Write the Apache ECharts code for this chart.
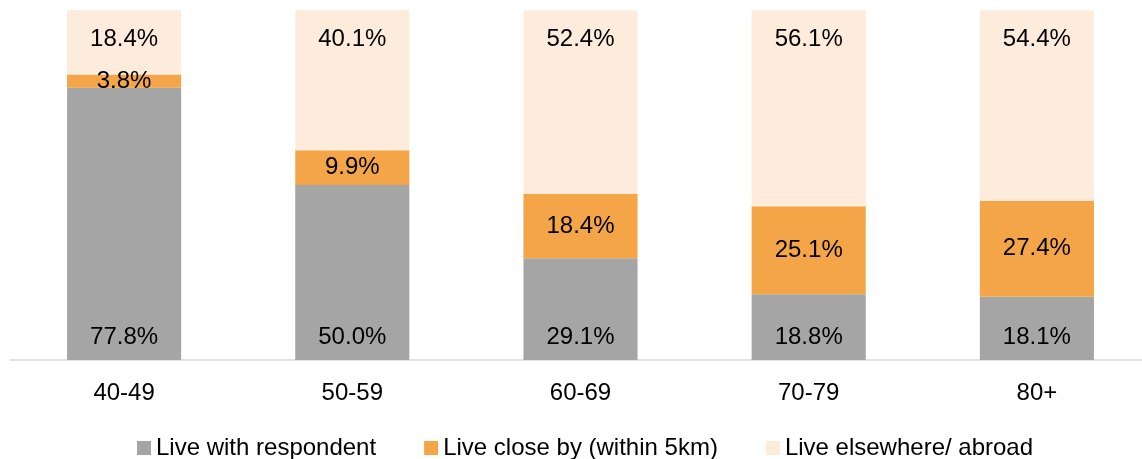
<!DOCTYPE html>
<html>
<head>
<meta charset="utf-8">
<script src="https://cdn.jsdelivr.net/npm/echarts@6/dist/echarts.min.js"></script>
<style>
  html, body { margin: 0; padding: 0; background: #fff; }
  #chart { width: 1142px; height: 459px; }
</style>
</head>
<body>
<div id="chart"></div>
<script>
// Age groups along the x axis
const categories = ['40-49', '50-59', '60-69', '70-79', '80+'];
// Share of children by where they live (%)
const liveWith = [77.8, 50.0, 29.1, 18.8, 18.1];
const liveClose = [3.8, 9.9, 18.4, 25.1, 27.4];
const liveElsewhere = [18.4, 40.1, 52.4, 56.1, 54.4];
const seriesNames = ['Live with respondent', 'Live close by (within 5km)', 'Live elsewhere/ abroad'];

const FONT = 'Liberation Sans, Arial, sans-serif';
const labelBase = {
  show: true,
  fontFamily: FONT,
  fontSize: 24,
  color: '#000',
  formatter: p => p.value.toFixed(1) + '%'
};

const chart = echarts.init(document.getElementById('chart'), null, { renderer: 'canvas' });
chart.setOption({
  animation: false,
  backgroundColor: '#fff',
  // the plot runs slightly past the right edge of the canvas
  grid: { left: 10, width: 1141, top: 10, bottom: 99, containLabel: false, outerBoundsMode: 'none' },
  legend: {
    data: seriesNames,
    left: 132,
    top: 431,
    icon: 'rect',
    itemWidth: 14,
    itemHeight: 14,
    itemGap: 48,
    textStyle: { fontFamily: FONT, fontSize: 24, color: '#000' }
  },
  xAxis: {
    type: 'category',
    data: categories,
    axisLine: { lineStyle: { color: '#d9d9d9', width: 1.5 } },
    axisTick: { show: false },
    axisLabel: { fontFamily: FONT, fontSize: 24, color: '#000', margin: 21 }
  },
  yAxis: {
    type: 'value',
    min: 0,
    max: 100,
    show: false,
    splitLine: { show: false }
  },
  series: [
    {
      name: seriesNames[0], type: 'bar', stack: 'total', data: liveWith,
      barWidth: '50%',
      itemStyle: { color: '#a5a5a5' },
      label: Object.assign({}, labelBase, { position: 'insideBottom', distance: 11 })
    },
    {
      name: seriesNames[1], type: 'bar', stack: 'total', data: liveClose,
      barWidth: '50%',
      itemStyle: { color: '#f3a547' },
      label: Object.assign({}, labelBase, { position: 'inside' })
    },
    {
      name: seriesNames[2], type: 'bar', stack: 'total', data: liveElsewhere,
      barWidth: '50%',
      itemStyle: { color: '#fdebdb' },
      label: Object.assign({}, labelBase, { position: 'insideTop', distance: 17 })
    }
  ]
});
</script>
</body>
</html>
